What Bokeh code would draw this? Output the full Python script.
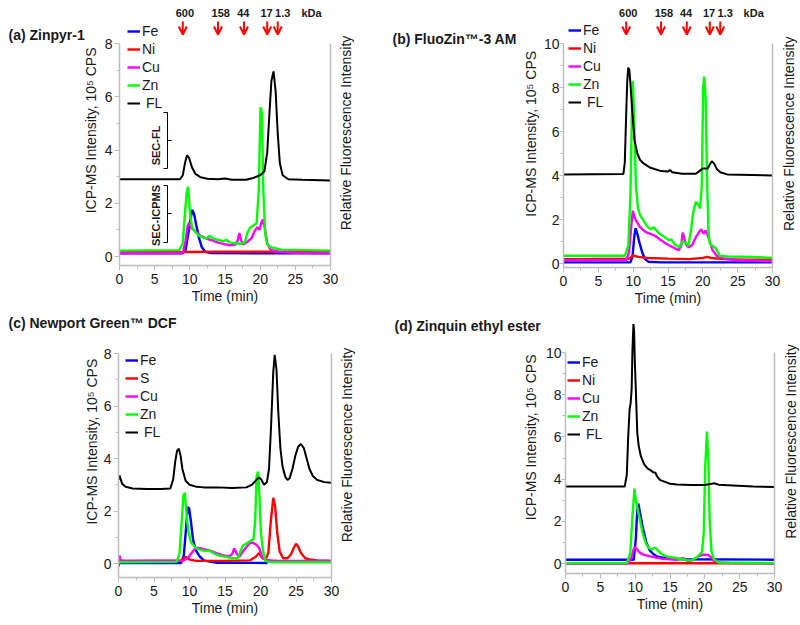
from bokeh.plotting import figure
from bokeh.models import (Range1d, LinearAxis, FixedTicker, Label, Arrow, OpenHead,
                          ColumnDataSource, Legend, LegendItem)
from bokeh.layouts import column, row
from bokeh.embed import file_html
from bokeh.resources import INLINE

FONT = "Liberation Sans"
C_FE, C_NI, C_CU, C_ZN, C_FL = "#0000ff", "#ff0000", "#ff00ff", "#00ff00", "#000000"
RED = "#ff0000"
GREY = "#bdbdbd"
TXT = "#1a1a1a"

# ---------------- data: (time [min], intensity [1e5 CPS]) ----------------
# (a) Zinpyr-1
a_fe = [(0, 0.12), (9.0, 0.12), (9.4, 0.25), (9.8, 0.9), (10.1, 1.4), (10.35, 1.75), (10.6, 1.6),
        (10.9, 1.2), (11.3, 0.7), (11.7, 0.35), (12.2, 0.18), (13.0, 0.13), (20, 0.12), (30, 0.12)]
a_ni = [(0, 0.16), (9.0, 0.17), (15.0, 0.18), (20.0, 0.18), (25.0, 0.17), (30, 0.16)]
a_cu = [(0, 0.12), (9.0, 0.13), (9.4, 0.6), (9.7, 1.15), (9.9, 1.28), (10.3, 1.05), (10.8, 0.95),
        (11.5, 0.78), (12.3, 0.68), (13.0, 0.62), (14.0, 0.52), (15.0, 0.46), (15.8, 0.42), (16.5, 0.45),
        (16.8, 0.6), (17.05, 0.88), (17.3, 0.6), (17.6, 0.45), (18.2, 0.55), (18.8, 0.7), (19.2, 0.95),
        (19.6, 1.1), (19.9, 1.0), (20.2, 1.3), (20.4, 1.38), (20.7, 1.0), (21.0, 0.5), (21.5, 0.25),
        (22.5, 0.18), (25, 0.14), (30, 0.12)]
a_zn = [(0, 0.22), (8.5, 0.24), (9.0, 0.5), (9.3, 1.6), (9.55, 2.4), (9.75, 2.62), (10.0, 1.7),
        (10.3, 1.1), (10.7, 0.95), (11.2, 0.8), (11.8, 0.72), (12.4, 0.68), (12.8, 0.78), (13.3, 0.68),
        (14.0, 0.62), (14.8, 0.58), (15.2, 0.62), (15.8, 0.52), (16.5, 0.5), (17.2, 0.48), (17.8, 0.52),
        (18.2, 0.9), (18.6, 1.1), (19.0, 1.15), (19.5, 1.25), (19.8, 2.5), (20.05, 5.6), (20.25, 5.4),
        (20.45, 2.5), (20.7, 0.9), (21.0, 0.45), (21.5, 0.35), (22.3, 0.3), (23.0, 0.26), (30, 0.22)]
a_fl = [(0, 2.9), (8.6, 2.9), (9.0, 3.05), (9.3, 3.5), (9.6, 3.8), (9.9, 3.7), (10.3, 3.35), (10.8, 3.1),
        (11.5, 2.98), (12.5, 2.92), (14.0, 2.9), (15.0, 2.93), (16.0, 2.88), (18.0, 2.88), (19.0, 2.95),
        (20.0, 3.05), (20.6, 3.2), (21.0, 3.9), (21.3, 5.3), (21.6, 6.6), (21.9, 6.95), (22.2, 6.2),
        (22.5, 4.6), (22.8, 3.5), (23.2, 3.05), (24.0, 2.9), (26.0, 2.88), (30, 2.85)]

# (b) FluoZin-3 AM
b_fe = [(0, 0.05), (9.6, 0.05), (9.9, 0.3), (10.15, 1.2), (10.35, 1.6), (10.6, 1.35), (10.9, 0.95),
        (11.3, 0.5), (11.7, 0.2), (12.2, 0.08), (14.0, 0.05), (30, 0.05)]
b_ni = [(0, 0.2), (9.5, 0.22), (10.0, 0.38), (10.3, 0.33), (10.8, 0.3), (12.0, 0.25), (15.0, 0.22),
        (18.0, 0.2), (20.0, 0.25), (20.6, 0.3), (21.2, 0.25), (23.0, 0.2), (26.0, 0.17), (30, 0.17)]
b_cu = [(0, 0.15), (9.0, 0.15), (9.4, 0.5), (9.7, 1.6), (9.95, 2.4), (10.2, 2.1), (10.5, 1.9),
        (11.0, 1.65), (11.5, 1.5), (12.0, 1.4), (12.5, 1.35), (13.2, 1.25), (13.8, 1.1), (14.5, 0.95),
        (15.2, 0.82), (15.8, 0.72), (16.5, 0.6), (16.9, 0.8), (17.1, 1.4), (17.3, 1.2), (17.6, 0.85),
        (18.0, 0.74), (18.5, 0.85), (19.0, 1.2), (19.5, 1.45), (19.8, 1.55), (20.1, 1.35), (20.4, 1.5),
        (20.7, 1.3), (21.0, 1.0), (21.4, 0.6), (22.0, 0.35), (23.0, 0.23), (25.0, 0.15), (30, 0.1)]
b_zn = [(0, 0.35), (8.8, 0.35), (9.3, 0.8), (9.6, 3.0), (9.8, 6.5), (9.95, 8.3), (10.1, 7.0),
        (10.4, 3.5), (10.7, 2.5), (11.0, 2.2), (11.5, 1.95), (12.0, 1.7), (12.5, 1.55), (12.9, 1.65),
        (13.2, 1.55), (13.8, 1.35), (14.5, 1.2), (15.2, 1.05), (15.5, 1.1), (16.0, 0.85), (16.6, 0.75),
        (17.1, 1.0), (17.5, 0.95), (17.9, 0.8), (18.3, 1.5), (18.6, 2.3), (19.0, 2.8), (19.3, 2.7),
        (19.6, 2.5), (19.85, 3.5), (20.05, 8.0), (20.2, 8.5), (20.4, 7.5), (20.6, 4.0), (20.8, 1.5),
        (21.0, 0.9), (21.4, 0.8), (21.8, 0.72), (22.1, 0.55), (22.4, 0.35), (23.5, 0.32), (27.0, 0.3),
        (30, 0.25)]
b_fl = [(0, 4.05), (8.6, 4.07), (8.8, 4.6), (9.0, 6.8), (9.15, 8.3), (9.3, 8.9), (9.45, 8.8),
        (9.6, 8.2), (9.9, 6.8), (10.2, 5.6), (10.6, 5.0), (11.0, 4.7), (11.5, 4.55), (12.5, 4.35),
        (14.0, 4.2), (15.0, 4.18), (15.3, 4.25), (15.6, 4.15), (17.0, 4.08), (19.0, 4.08), (19.5, 4.2),
        (20.0, 4.32), (20.7, 4.32), (21.0, 4.5), (21.3, 4.65), (21.6, 4.55), (22.0, 4.3), (22.5, 4.15),
        (23.5, 4.05), (30, 4.0)]

# (c) Newport Green DCF
c_fe = [(0, 0.02), (8.8, 0.02), (9.2, 0.3), (9.5, 1.3), (9.75, 2.15), (9.95, 2.1), (10.2, 1.6),
        (10.5, 0.9), (10.9, 0.5), (11.4, 0.28), (12.0, 0.12), (13.0, 0.06), (14.0, 0.03), (21.0, 0.02)]
c_s = [(0, -0.12), (0.1, 0.1), (0.3, 0.12), (1.0, 0.1), (8.8, 0.12), (9.2, 0.2), (9.5, 0.25),
       (10.0, 0.15), (11.0, 0.1), (15.0, 0.1), (18.5, 0.12), (19.3, 0.25), (19.8, 0.4), (20.2, 0.22),
       (20.7, 0.15), (21.1, 0.4), (21.45, 1.6), (21.8, 2.5), (22.05, 2.2), (22.35, 1.2), (22.7, 0.45),
       (23.2, 0.2), (23.8, 0.2), (24.3, 0.35), (24.7, 0.6), (25.0, 0.75), (25.3, 0.65), (25.7, 0.4),
       (26.3, 0.2), (27.0, 0.15), (28.0, 0.12), (30, 0.1)]
c_cu = [(0, 0.15), (0.15, 0.3), (0.3, 0.1), (0.6, 0.1), (8.5, 0.1), (9.0, 0.1), (9.4, 0.15),
        (9.8, 0.22), (10.3, 0.4), (10.9, 0.6), (11.5, 0.58), (12.0, 0.55), (12.8, 0.5), (13.5, 0.42),
        (14.3, 0.35), (15.0, 0.3), (15.6, 0.28), (16.0, 0.35), (16.3, 0.57), (16.7, 0.35), (17.0, 0.25),
        (17.5, 0.45), (18.0, 0.62), (18.6, 0.8), (19.0, 0.78), (19.4, 0.72), (19.8, 0.6), (20.3, 0.2),
        (20.8, 0.14), (21.5, 0.12), (22.5, 0.1), (25.0, 0.1), (30, 0.1)]
c_zn = [(0, 0.05), (8.2, 0.06), (8.6, 0.4), (8.9, 1.6), (9.15, 2.6), (9.35, 2.69), (9.55, 2.0),
        (9.8, 1.3), (10.2, 0.81), (10.9, 0.6), (11.5, 0.52), (12.3, 0.47), (12.8, 0.5), (13.3, 0.4),
        (14.2, 0.3), (15.0, 0.26), (16.1, 0.2), (16.8, 0.2), (17.5, 0.68), (18.0, 0.75), (18.6, 0.87),
        (19.0, 0.9), (19.25, 1.6), (19.45, 3.3), (19.65, 3.5), (19.85, 2.6), (20.05, 1.2), (20.35, 0.5),
        (20.7, 0.1), (21.2, 0.06), (22.0, 0.05), (30, 0.05)]
c_fl = [(0, 3.19), (0.15, 3.35), (0.5, 3.04), (1.0, 2.92), (2.0, 2.86), (4.0, 2.84), (6.0, 2.84),
        (7.3, 2.86), (7.7, 3.2), (8.0, 3.9), (8.25, 4.3), (8.5, 4.37), (8.75, 4.1), (9.0, 3.6),
        (9.45, 3.15), (10.0, 3.0), (11.0, 2.92), (12.0, 2.9), (14.0, 2.9), (16.0, 2.88), (18.0, 2.9),
        (18.8, 3.0), (19.3, 3.15), (19.8, 3.28), (20.1, 3.2), (20.5, 3.0), (20.9, 3.1), (21.2, 3.6),
        (21.5, 5.3), (21.8, 7.3), (22.0, 7.95), (22.25, 7.4), (22.5, 5.8), (22.8, 4.4), (23.1, 3.7),
        (23.5, 3.3), (23.8, 3.18), (24.1, 3.25), (24.5, 3.6), (24.9, 4.1), (25.3, 4.45), (25.7, 4.55),
        (26.1, 4.4), (26.5, 4.0), (26.9, 3.6), (27.4, 3.32), (28.0, 3.18), (29.0, 3.1), (30, 3.08)]

# (d) Zinquin ethyl ester
d_fe = [(0, 0.18), (9.8, 0.18), (10.1, 1.2), (10.3, 2.5), (10.45, 2.84), (10.7, 2.4), (11.1, 1.7),
        (11.6, 1.0), (12.1, 0.62), (12.6, 0.45), (13.2, 0.32), (14.0, 0.27), (15.0, 0.22), (17.0, 0.2),
        (30, 0.18)]
d_ni = [(0, 0.01), (30, 0.01)]
d_cu = [(0, 0.0), (9.0, 0.0), (9.5, 0.3), (9.8, 0.7), (10.0, 0.78), (10.3, 0.65), (10.7, 0.5),
        (11.2, 0.42), (12.0, 0.35), (13.0, 0.28), (14.0, 0.22), (15.0, 0.2), (16.0, 0.18), (16.9, 0.25),
        (17.5, 0.12), (18.2, 0.15), (19.0, 0.32), (19.5, 0.4), (20.0, 0.42), (20.5, 0.4), (20.9, 0.3),
        (21.3, 0.12), (22.0, 0.05), (24.0, 0.02), (30, 0.0)]
d_zn = [(0, 0.02), (8.8, 0.02), (9.3, 0.5), (9.6, 2.2), (9.9, 3.55), (10.1, 3.0), (10.4, 2.5),
        (10.6, 2.2), (11.1, 1.4), (11.6, 0.9), (12.1, 0.7), (12.5, 0.68), (12.9, 0.76), (13.3, 0.6),
        (13.8, 0.45), (14.6, 0.32), (15.2, 0.3), (16.0, 0.25), (16.8, 0.2), (17.5, 0.15), (18.0, 0.14),
        (18.9, 0.3), (19.3, 0.45), (19.6, 0.55), (19.85, 1.5), (20.05, 4.5), (20.3, 6.25), (20.5, 5.0),
        (20.7, 2.0), (20.95, 0.6), (21.3, 0.2), (22.0, 0.05), (30, 0.02)]
d_fl = [(0, 3.65), (8.5, 3.65), (8.8, 4.2), (9.0, 6.0), (9.2, 7.3), (9.35, 7.6), (9.5, 8.3),
        (9.6, 10.0), (9.75, 11.35), (9.85, 11.0), (9.95, 9.6), (10.1, 8.2), (10.3, 6.2), (10.5, 5.6),
        (10.8, 5.1), (11.3, 4.7), (11.8, 4.5), (12.3, 4.4), (12.6, 4.32), (12.9, 4.3), (13.2, 4.1),
        (13.6, 3.95), (14.2, 3.88), (15.0, 3.78), (16.0, 3.74), (18.0, 3.72), (20.0, 3.72), (21.0, 3.78),
        (21.4, 3.8), (22.0, 3.73), (24.0, 3.7), (27.0, 3.65), (30, 3.62)]

# molecular-weight standards (kDa) and their elution times
mw_labels = ["600", "158", "44", "17", "1.3"]
mw_time = [9.0, 14.0, 17.7, 21.0, 22.5]
mw_label_time = [9.3, 14.4, 17.6, 20.9, 23.2]
kda_label_time = 27.3

x_ticks = [0, 5, 10, 15, 20, 25, 30]
x_minor = [2.5, 7.5, 12.5, 17.5, 22.5, 27.5]

Y_LABEL = "ICP-MS Intensity, 10\u2075 CPS"
R_LABEL = "Relative Fluorescence Intensity"

# ---------------- layout geometry (page pixels) ----------------
GEOM = {
    "a": dict(cx=100, cy=0, cw=238, ch=310, fl=119, fr=330, ft=0, fb=265, y0=256, ppu=26.625, ytop=8, tick=5, sto=2),
    "b": dict(cx=540, cy=0, cw=238, ch=310, fl=561, fr=770, ft=0, fb=267, y0=263, ppu=22.0, ytop=10, tick=4, sto=0),
    "c": dict(cx=100, cy=338, cw=237, ch=285, fl=116, fr=329, ft=338, fb=577, y0=563, ppu=26.25, ytop=8, tick=5, sto=2),
    "d": dict(cx=540, cy=310, cw=238, ch=313, fl=561, fr=770, ft=310, fb=573, y0=563, ppu=21.1, ytop=10, tick=4, sto=0),
}


def to_data(g, ix, iy):
    return ((ix - g["fl"]) / (g["fr"] - g["fl"]) * 30.0, (g["y0"] - iy) / g["ppu"])


def unzip(series):
    return [s[0] for s in series], [s[1] for s in series]


def strip(x0, y0, w, h, texts):
    """A text-only canvas; texts are (page_x, page_y, text, size, bold, align, angle)."""
    s = figure(width=w, height=h, x_range=Range1d(0, w), y_range=Range1d(0, h),
               min_border_left=0, min_border_right=0, min_border_top=0, min_border_bottom=0,
               x_axis_location=None, y_axis_location=None,
               output_backend="svg", toolbar_location=None, title=None)
    s.outline_line_color = None
    s.grid.visible = False
    s.background_fill_color = "white"
    s.border_fill_color = "white"
    for ix, iy, text, size, bold, align, angle in texts:
        s.add_layout(Label(x=ix - x0, y=h - (iy - y0), text=text, text_font=FONT,
                           text_font_size=size, text_font_style="bold" if bold else "normal",
                           text_color=TXT, text_align=align, text_baseline="middle",
                           angle=angle, angle_units="deg"))
    return s


def build(key, series, legend_pos, kda=False):
    g = GEOM[key]
    ymin = -(g["fb"] - g["y0"]) / g["ppu"]
    ymax = (g["y0"] - g["ft"]) / g["ppu"]
    p = figure(frame_width=g["fr"] - g["fl"], frame_height=g["fb"] - g["ft"],
               min_border_left=g["fl"] - g["cx"], min_border_right=g["cx"] + g["cw"] - g["fr"],
               min_border_top=g["ft"] - g["cy"], min_border_bottom=g["cy"] + g["ch"] - g["fb"],
               x_range=Range1d(0, 30), y_range=Range1d(ymin, ymax),
               output_backend="svg", toolbar_location=None, title=None)
    p.outline_line_color = None
    p.xgrid.visible = False
    p.ygrid.visible = False
    p.background_fill_color = "white"
    p.border_fill_color = "white"

    xa = p.xaxis[0]
    ya = p.yaxis[0]
    xa.ticker = FixedTicker(ticks=x_ticks, minor_ticks=x_minor)
    ya.ticker = FixedTicker(ticks=list(range(0, g["ytop"] + 1, 2)),
                            minor_ticks=list(range(1, g["ytop"], 2)))
    xa.bounds = (0, 30)
    ya.bounds = (ymin, g["ytop"])
    for ax in (xa, ya):
        ax.axis_line_color = GREY
        ax.axis_line_width = 1.5
        ax.major_tick_line_color = GREY
        ax.minor_tick_line_color = GREY
        ax.major_tick_in = 0
        ax.minor_tick_in = 0
        ax.minor_tick_out = 3
        ax.major_label_text_font = FONT
        ax.major_label_text_font_size = "14px"
        ax.major_label_text_color = TXT
    xa.major_tick_out = 5
    ya.major_tick_out = g["tick"]
    xa.major_label_standoff = 3
    ya.major_label_standoff = g["sto"]
    xa.axis_label = "Time (min)"
    xa.axis_label_text_font = FONT
    xa.axis_label_text_font_size = "14px"
    xa.axis_label_text_font_style = "normal"
    xa.axis_label_text_color = TXT
    xa.axis_label_standoff = 1

    # right-hand (fluorescence) axis: a bare line, labelled in the strip beside it
    ra = LinearAxis(ticker=FixedTicker(ticks=[]), bounds=(ymin, g["ytop"]),
                    axis_line_color=GREY, axis_line_width=1.5,
                    major_tick_out=0, major_tick_in=0, minor_tick_out=0, minor_tick_in=0,
                    major_tick_line_color=None, minor_tick_line_color=None,
                    major_label_standoff=0, major_label_text_font_size="0px")
    p.add_layout(ra, "right")

    items = []
    for name, data, color in series:
        t, v = unzip(data)
        lw = 2.0 if color == C_FL else 2.4
        r = p.line(t, v, line_color=color, line_width=lw)
        items.append((name, r))
    leg = Legend(items=[LegendItem(label=n, renderers=[r]) for n, r in items],
                 location=legend_pos, margin=0, padding=0, spacing=0,
                 glyph_width=13, glyph_height=18, label_height=18, label_standoff=2,
                 label_text_font=FONT, label_text_font_size="14px", label_text_color=TXT,
                 border_line_color=None, background_fill_alpha=0)
    p.add_layout(leg)

    if kda:
        _, y_top = to_data(g, 0, 21)
        _, y_tip = to_data(g, 0, 34)
        _, y_lab = to_data(g, 0, 12)
        src = ColumnDataSource(dict(x=mw_time, y0=[y_top] * len(mw_time), y1=[y_tip] * len(mw_time)))
        p.add_layout(Arrow(end=OpenHead(size=8, line_color=RED, line_width=2), source=src,
                           x_start="x", y_start="y0", x_end="x", y_end="y1",
                           line_color=RED, line_width=2))
        for t, lab in zip(mw_label_time + [kda_label_time], mw_labels + ["kDa"]):
            p.add_layout(Label(x=t, y=y_lab, text=lab, text_font=FONT, text_font_size="11px",
                               text_font_style="bold", text_color=TXT, text_align="center",
                               text_baseline="middle"))
    return p, g


pa, ga = build("a", [("Fe", a_fe, C_FE), ("Ni", a_ni, C_NI), ("Cu", a_cu, C_CU), ("Zn", a_zn, C_ZN),
                     (" FL", a_fl, C_FL)], (8, 153), kda=True)
pb, gb = build("b", [("Fe", b_fe, C_FE), ("Ni", b_ni, C_NI), ("Cu", b_cu, C_CU), ("Zn", b_zn, C_ZN),
                     (" FL", b_fl, C_FL)], (5, 156), kda=True)
pc, gc = build("c", [("Fe", c_fe, C_FE), ("S", c_s, C_NI), ("Cu", c_cu, C_CU), ("Zn", c_zn, C_ZN),
                     (" FL", c_fl, C_FL)], (7, 136))
pd_, gd = build("d", [("Fe", d_fe, C_FE), ("Ni", d_ni, C_NI), ("Cu", d_cu, C_CU), ("Zn", d_zn, C_ZN),
                      (" FL", d_fl, C_FL)], (2, 130))

# SEC-FL / SEC-ICPMS brackets in panel (a)
sec_groups = [("SEC-FL", 112, 168, 140, 145), ("SEC-ICPMS", 185, 242, 213, 215)]
for lab, ytop_px, ybot_px, ymid_px, ytext_px in sec_groups:
    x_end, y_t = to_data(ga, 163, ytop_px)
    x_bar, y_b = to_data(ga, 167, ybot_px)
    x_tick, y_m = to_data(ga, 171, ymid_px)
    x_txt, y_txt = to_data(ga, 155, ytext_px)
    pa.line([x_end, x_bar, x_bar, x_end], [y_t, y_t, y_b, y_b], line_color="black", line_width=1)
    pa.line([x_bar, x_tick], [y_m, y_m], line_color="black", line_width=1)
    pa.add_layout(Label(x=x_txt, y=y_txt, text=lab, text_font=FONT, text_font_size="11px",
                        text_font_style="bold", text_color=TXT, text_align="center",
                        text_baseline="middle", angle=90, angle_units="deg"))

# text strips around the plots (page coordinates of each text)
sa_l = strip(0, 0, 100, 310, [(8, 40, "(a) Zinpyr-1", "14px", True, "left", 0),
                              (90, 152, Y_LABEL, "14px", False, "center", 90)])
sa_r = strip(338, 0, 54, 310, [(345, 155, R_LABEL, "14px", False, "center", 90)])
sb_l = strip(392, 0, 148, 310, [(392, 45, "(b) FluoZin\u2122-3 AM", "14px", True, "left", 0),
                                (530, 156, Y_LABEL, "14px", False, "center", 90)])
sb_r = strip(778, 0, 20, 310, [(786, 156, R_LABEL, "14px", False, "center", 90)])
sc_t = strip(0, 310, 392, 28, [(8, 322, "(c) Newport Green\u2122 DCF", "14px", True, "left", 0)])
sc_l = strip(0, 338, 100, 285, [(91, 461, Y_LABEL, "14px", False, "center", 90)])
sc_r = strip(337, 338, 55, 285, [(344, 465, R_LABEL, "14px", False, "center", 90)])
sd_l = strip(392, 310, 148, 313, [(392, 328, "(d) Zinquin ethyl ester", "14px", True, "left", 0),
                                  (528, 461, Y_LABEL, "14px", False, "center", 90)])
sd_r = strip(778, 310, 20, 313, [(786, 466, R_LABEL, "14px", False, "center", 90)])

top = row(sa_l, pa, sa_r, sb_l, pb, sb_r)
bottom = row(column(sc_t, row(sc_l, pc, sc_r)), sd_l, pd_, sd_r)
layout = column(top, bottom)
open("out.html", "w").write(file_html(layout, INLINE))
